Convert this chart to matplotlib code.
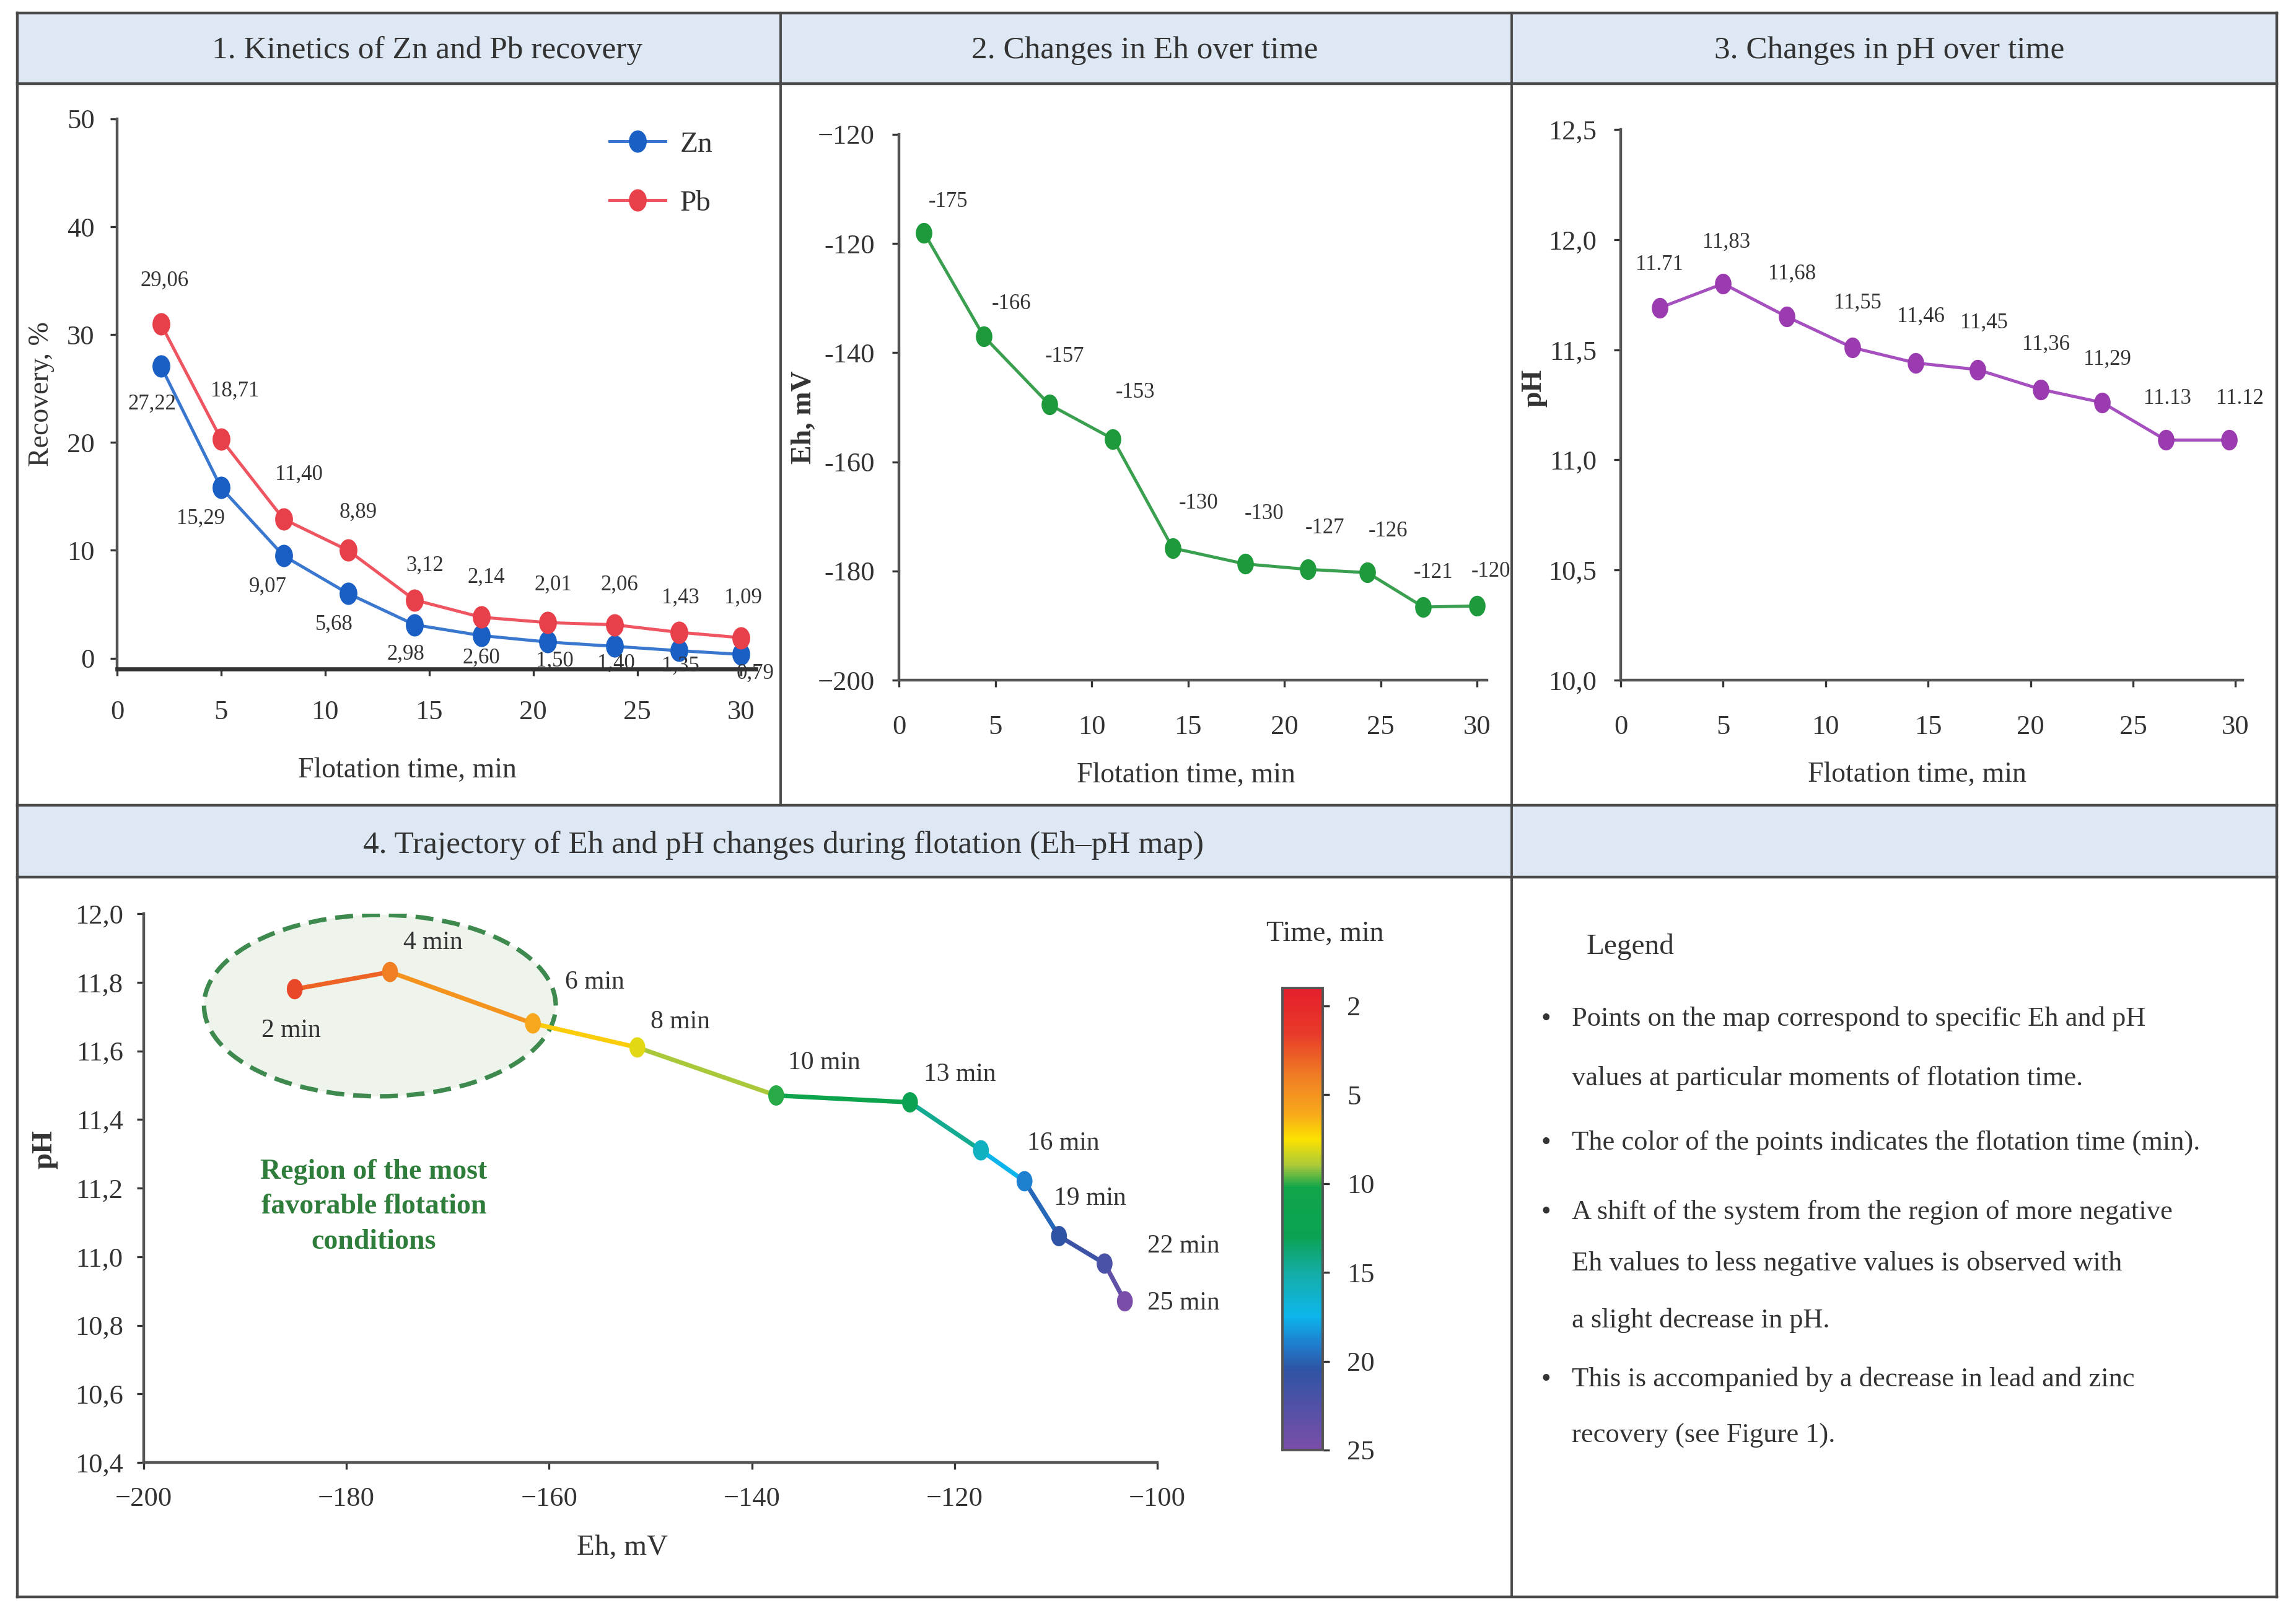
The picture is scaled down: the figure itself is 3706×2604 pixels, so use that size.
import numpy as np
import matplotlib
matplotlib.use("Agg")
import matplotlib.pyplot as plt
from matplotlib.path import Path
from matplotlib.transforms import Affine2D
from matplotlib.patches import Ellipse, Rectangle
from matplotlib.collections import LineCollection
from matplotlib.colors import LinearSegmentedColormap, Normalize
from matplotlib.cm import ScalarMappable

plt.rcParams['font.family'] = ['Liberation Serif', 'DejaVu Serif']
plt.rcParams['text.color'] = '#333333'
plt.rcParams['axes.labelcolor'] = '#333333'

# ---- data -------------------------------------------------------------
# 1. recovery kinetics
t_rec = [2.1, 5.0, 8.0, 11.1, 14.3, 17.5, 20.7, 23.9, 27.0, 30.0]
zn_rec = [27.1, 15.8, 9.5, 6.0, 3.1, 2.1, 1.5, 1.1, 0.7, 0.35]
pb_rec = [31.0, 20.3, 12.9, 10.0, 5.4, 3.8, 3.3, 3.1, 2.4, 1.9]
zn_lbl = ['27,22', '15,29', '9,07', '5,68', '2,98', '2,60', '1,50', '1,40', '1,35', '0,79']
pb_lbl = ['29,06', '18,71', '11,40', '8,89', '3,12', '2,14', '2,01', '2,06', '1,43', '1,09']

# 2. Eh over time
t_eh = [1.3, 4.4, 7.8, 11.1, 14.2, 17.95, 21.2, 24.3, 27.2, 30.0]
eh_val = [-118.0, -137.0, -149.5, -155.8, -175.8, -178.7, -179.7, -180.3, -186.6, -186.4]
eh_lbl = ['-175', '-166', '-157', '-153', '-130', '-130', '-127', '-126', '-121', '-120']
eh_ticks = [-200, -180, -160, -140, -120, -100]
eh_tick_lbl = ['\u2212200', '-180', '-160', '-140', '-120', '\u2212120']

# 3. pH over time
t_ph = [1.9, 5.0, 8.1, 11.3, 14.4, 17.4, 20.5, 23.5, 26.6, 29.7]
ph_val = [11.69, 11.80, 11.65, 11.51, 11.44, 11.41, 11.32, 11.26, 11.09, 11.09]
ph_lbl = ['11.71', '11,83', '11,68', '11,55', '11,46', '11,45', '11,36', '11,29', '11.13', '11.12']

# 4. Eh-pH map
map_eh = [-185.1, -175.7, -161.6, -151.3, -137.6, -124.4, -117.4, -113.1, -109.7, -105.2, -103.2]
map_ph = [11.78, 11.83, 11.68, 11.61, 11.47, 11.45, 11.31, 11.22, 11.06, 10.98, 10.87]
map_t = [2, 4, 6, 8, 10, 13, 16, 19, 20.5, 22, 25]
map_lbl = ['2 min', '4 min', '6 min', '8 min', '10 min', '13 min', '16 min', '19 min', '', '22 min', '25 min']
cb_ticks = [0, 5, 10, 15, 20, 25]
cb_tick_lbl = ['2', '5', '10', '15', '20', '25']

legend_lines = [
    (True, 'Points on the map correspond to specific Eh and pH'),
    (False, 'values at particular moments of flotation time.'),
    (True, 'The color of the points indicates the flotation time (min).'),
    (True, 'A shift of the system from the region of more negative'),
    (False, 'Eh values to less negative values is observed with'),
    (False, 'a slight decrease in pH.'),
    (True, 'This is accompanied by a decrease in lead and zinc'),
    (False, 'recovery (see Figure 1).'),
]

# ---- figure ----------------------------------------------------------
W, H, DPI = 3706, 2604, 200
fig = plt.figure(figsize=(W / DPI, H / DPI), dpi=DPI)
fig.patch.set_facecolor('white')


def px_axes(l, t, r, b):
    return fig.add_axes([l / W, 1 - b / H, (r - l) / W, (b - t) / H])


# background frame in pixel coords
bg = fig.add_axes([0, 0, 1, 1])
bg.set_xlim(0, W)
bg.set_ylim(H, 0)
bg.axis('off')
band = '#dde8f4'
edge = '#4a4a4a'
bg.add_patch(Rectangle((28, 21), 3675 - 28, 135 - 21, facecolor=band, edgecolor='none'))
bg.add_patch(Rectangle((28, 1300), 3675 - 28, 1416 - 1300, facecolor=band, edgecolor='none'))
for y in [21, 135, 1300, 1416, 2578]:
    bg.plot([28, 3675], [y, y], color=edge, lw=1.6)
bg.plot([28, 28], [21, 2578], color=edge, lw=1.6)
bg.plot([3675, 3675], [21, 2578], color=edge, lw=1.6)
bg.plot([1260, 1260], [21, 1300], color=edge, lw=1.4)
bg.plot([2440, 2440], [21, 2578], color=edge, lw=1.4)

tfs = 18.5
bg.text(690, 82, '1. Kinetics of Zn and Pb recovery', ha='center', va='center', fontsize=tfs)
bg.text(1848, 82, '2. Changes in Eh over time', ha='center', va='center', fontsize=tfs)
bg.text(3050, 82, '3. Changes in pH over time', ha='center', va='center', fontsize=tfs)
bg.text(1265, 1365, '4. Trajectory of Eh and pH changes during flotation (Eh\u2013pH map)',
        ha='center', va='center', fontsize=tfs)

# legend panel text
bg.text(2561, 1529, 'Legend', ha='left', va='center', fontsize=17)
line_y = [1645, 1741, 1845, 1957, 2040, 2132, 2227, 2318]
for (bul, txt), y in zip(legend_lines, line_y):
    if bul:
        bg.text(2495, y, '\u2022', ha='center', va='center', fontsize=16)
    bg.text(2537, y, txt, ha='left', va='center', fontsize=16)

# marker: slightly tall ellipse
emark = Path.unit_circle().transformed(Affine2D().scale(0.78, 1.0))

tick_col = '#333333'
spine_col = '#555555'


def style(ax, xpad=14, ypad=9):
    for s in ['top', 'right']:
        ax.spines[s].set_visible(False)
    for s in ['left', 'bottom']:
        ax.spines[s].set_color(spine_col)
        ax.spines[s].set_linewidth(1.6)
    ax.set_facecolor('none')
    ax.tick_params(axis='both', direction='out', length=4, width=1.2,
                   colors=tick_col, labelsize=16)
    ax.tick_params(axis='x', pad=xpad)
    ax.tick_params(axis='y', pad=ypad)


# ---- panel 1 ---------------------------------------------------------
ax1 = px_axes(189, 192, 1220, 1080)
ax1.plot(t_rec, zn_rec, color='#3a78d0', lw=1.8, marker=emark, ms=12,
         mfc='#1a5fc4', mec='#1a5fc4', label='Zn')
ax1.plot(t_rec, pb_rec, color='#ef5560', lw=1.8, marker=emark, ms=12,
         mfc='#e8404a', mec='#e8404a', label='Pb')
ax1.set_xlim(0, 30.7)
ax1.set_ylim(-1, 50)
ax1.set_xticks([0, 5, 10, 15, 20, 25, 30])
ax1.set_yticks([0, 10, 20, 30, 40, 50])
style(ax1)
ax1.spines['bottom'].set_linewidth(2.4)
ax1.spines['bottom'].set_color('#333333')
pb_off = [(2, 25), (8, 28), (9, 26), (6, 22), (6, 20), (3, 23), (3, 22), (3, 23), (1, 20), (1, 23)]
zn_off = [(-5, -22), (-12, -18), (-9, -18), (-8, -18), (-5, -17), (0, -13), (4, -11), (1, -10), (1, -9), (8, -11)]
for x, y, s, o in zip(t_rec, pb_rec, pb_lbl, pb_off):
    ax1.annotate(s, (x, y), xytext=o, textcoords='offset points', ha='center', va='center', fontsize=12.5)
for x, y, s, o in zip(t_rec, zn_rec, zn_lbl, zn_off):
    ax1.annotate(s, (x, y), xytext=o, textcoords='offset points', ha='center', va='center', fontsize=12.5)
ax1.set_xlabel('Flotation time, min', fontsize=16.5)
ax1.set_ylabel('Recovery, %', fontsize=16.5)
ax1.xaxis.set_label_coords(0.454, -0.161)
ax1.yaxis.set_label_coords(-0.098, 0.5)
ax1.legend(loc='upper left', bbox_to_anchor=(0.771, 0.978), frameon=False, fontsize=17,
           handlelength=1.9, handletextpad=0.5, labelspacing=1.1, borderaxespad=0, borderpad=0)

# ---- panel 2 ---------------------------------------------------------
ax2 = px_axes(1451, 217, 2400, 1098)
ax2.plot(t_eh, eh_val, color='#3aa050', lw=1.8, marker=emark, ms=11,
         mfc='#1e9a3c', mec='#1e9a3c')
ax2.set_xlim(0, 30.5)
ax2.set_ylim(-200, -100)
ax2.set_xticks([0, 5, 10, 15, 20, 25, 30])
ax2.set_yticks(eh_ticks)
ax2.set_yticklabels(eh_tick_lbl)
style(ax2, xpad=16, ypad=10)
eh_off = [(14, 18), (16, 19), (9, 28), (13, 27), (15, 26), (11, 29), (10, 24), (12, 24), (6, 20), (8, 20)]
for x, y, s, o in zip(t_eh, eh_val, eh_lbl, eh_off):
    ax2.annotate(s, (x, y), xytext=o, textcoords='offset points', ha='center', va='center', fontsize=12.5)
ax2.set_xlabel('Flotation time, min', fontsize=16.5)
ax2.set_ylabel('Eh, mV', fontsize=16.5, fontweight='bold')
ax2.xaxis.set_label_coords(0.488, -0.150)
ax2.yaxis.set_label_coords(-0.139, 0.482)

# ---- panel 3 ---------------------------------------------------------
ax3 = px_axes(2616, 209, 3620, 1098)
ax3.plot(t_ph, ph_val, color='#a650c0', lw=1.8, marker=emark, ms=11,
         mfc='#9a3bb0', mec='#9a3bb0')
ax3.set_xlim(0, 30.35)
ax3.set_ylim(10, 12.5)
ax3.set_xticks([0, 5, 10, 15, 20, 25, 30])
ax3.set_yticks([10.0, 10.5, 11.0, 11.5, 12.0, 12.5])
ax3.set_yticklabels(['10,0', '10,5', '11,0', '11,5', '12,0', '12,5'])
style(ax3, xpad=16, ypad=10)
ph_off = [(0, 25), (2, 24), (3, 25), (3, 26), (3, 27), (4, 27), (3, 26), (3, 25), (1, 24), (6, 24)]
for x, y, s, o in zip(t_ph, ph_val, ph_lbl, ph_off):
    ax3.annotate(s, (x, y), xytext=o, textcoords='offset points', ha='center', va='center', fontsize=12.5)
ax3.set_xlabel('Flotation time, min', fontsize=16.5)
ax3.set_ylabel('pH', fontsize=16.5, fontweight='bold')
ax3.xaxis.set_label_coords(0.477, -0.148)
ax3.yaxis.set_label_coords(-0.118, 0.531)

# ---- panel 4: Eh-pH map ----------------------------------------------
cmap = LinearSegmentedColormap.from_list('tmap', [
    (0.0, '#e51f2b'), (2.5 / 26, '#e83a2a'), (5.0 / 26, '#f07f23'), (7.0 / 26, '#f7a81c'),
    (8.5 / 26, '#fce100'), (10.0 / 26, '#a9c93a'), (11.2 / 26, '#10a54a'),
    (14.0 / 26, '#0ba353'), (16.0 / 26, '#14ada5'), (18.5 / 26, '#0cb6ec'),
    (20.0 / 26, '#1e7fd0'), (21.5 / 26, '#2f54a5'), (1.0, '#7a4ea8')])
norm = Normalize(vmin=-1, vmax=25)

ax4 = px_axes(232, 1475, 1868, 2361)
ax4.set_xlim(-200, -100)
ax4.set_ylim(10.4, 12.0)
ax4.add_patch(Ellipse((-176.7, 11.732), 34.7, 0.529, facecolor='#eef3ec',
                      edgecolor='#3e8a4e', lw=2.6, ls=(0, (4, 2)), zorder=1))
ax4.text(-177.3, 11.145, 'Region of the most\nfavorable flotation\nconditions', ha='center',
         va='center', fontsize=16.5, fontweight='bold', color='#2e7d3a', linespacing=1.45)
pts = np.column_stack([map_eh, map_ph])
segs = np.stack([pts[:-1], pts[1:]], axis=1)
mid_t = [(a + b) / 2 for a, b in zip(map_t[:-1], map_t[1:])]
lc = LineCollection(segs, colors=[cmap(norm(v)) for v in mid_t], linewidths=2.6, zorder=2)
ax4.add_collection(lc)
ax4.scatter(map_eh, map_ph, c=map_t, cmap=cmap, norm=norm, marker=emark, s=140,
            edgecolors='none', zorder=3)
map_off = [(-2, -24), (25, 17), (36, 24), (25, 15), (28, 19), (29, 16), (48, 4), (38, -10),
           (0, 0), (46, 10), (34, -1)]
for x, y, s, o in zip(map_eh, map_ph, map_lbl, map_off):
    if s:
        ax4.annotate(s, (x, y), xytext=o, textcoords='offset points', ha='center',
                     va='center', fontsize=15)
ax4.set_xticks([-200, -180, -160, -140, -120, -100])
ax4.set_yticks([10.4, 10.6, 10.8, 11.0, 11.2, 11.4, 11.6, 11.8, 12.0])
ax4.set_yticklabels([f'{v:.1f}'.replace('.', ',') for v in ax4.get_yticks()])
style(ax4, xpad=10, ypad=8)
ax4.set_xlabel('Eh, mV', fontsize=17)
ax4.set_ylabel('pH', fontsize=17, fontweight='bold')
ax4.xaxis.set_label_coords(0.472, -0.132)
ax4.yaxis.set_label_coords(-0.085, 0.571)

# colour bar
cax = px_axes(2070, 1595, 2135, 2341)
cb = fig.colorbar(ScalarMappable(norm=norm, cmap=cmap), cax=cax, ticks=cb_ticks)
cb.ax.invert_yaxis()
cb.ax.set_yticklabels(cb_tick_lbl)
cb.ax.tick_params(labelsize=16, length=4, width=1.2, colors=tick_col, pad=10)
cb.outline.set_edgecolor('#555555')
cb.outline.set_linewidth(1.4)
bg.text(2139, 1508, 'Time, min', ha='center', va='center', fontsize=16.5)

fig.savefig('out.png', dpi=DPI)
